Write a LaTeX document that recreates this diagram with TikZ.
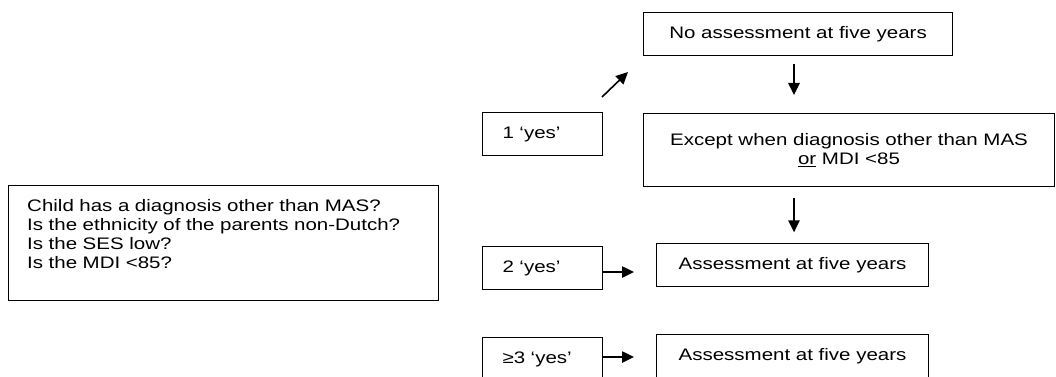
\documentclass[tikz,border=0pt]{standalone}
\usepackage{fontspec}
\setmainfont{Liberation Sans}[FakeStretch=1.23]
\usetikzlibrary{arrows.meta,calc}

\begin{document}
\begin{tikzpicture}[x=0.75pt, y=-0.75pt,
  every node/.style={font=\fontsize{12.5}{14.25}\selectfont},
  box/.style={draw, line width=0.8pt, anchor=north west, inner ysep=0pt, minimum height=32.25pt},
  yesbox/.style={box, inner xsep=15pt, text width=60pt, align=left},
  assessbox/.style={box, inner xsep=0pt, minimum width=204pt, align=center},
  arr/.style={-{Triangle[length=9pt,width=8.5pt]}, line width=1.2pt}]
  \useasboundingbox (0,0) rectangle (1056,377);
  \clip (0,0) rectangle (1056,377);
  % questions
  \node[box, inner xsep=14pt, text width=294.5pt, minimum height=86.25pt, align=left]
    (questions) at (8,185) {Child has a diagnosis other than MAS?\\
      Is the ethnicity of the parents non-Dutch?\\
      Is the SES low?\\
      Is the MDI <85?\\ \mbox{}};
  % number of yes answers
  \node[yesbox] (yes1) at (482,112) {1 ‘yes’};
  \node[yesbox] (yes2) at (482,246) {2 ‘yes’};
  \node[yesbox] (yes3) at (482,337) {≥3 ‘yes’};
  % outcomes
  \node[box, inner xsep=0pt, minimum width=231.75pt, align=center] (noassess) at (643,12)
    {No assessment at five years};
  \node[box, inner xsep=0pt, minimum width=308.25pt, minimum height=54.75pt, align=center]
    (except) at (643,113) {Except when diagnosis other than MAS\\ \underline{or} MDI <85};
  \node[assessbox] (assess1) at (656,243) {Assessment at five years};
  \node[assessbox] (assess2) at (656,334) {Assessment at five years};
  % arrows
  \coordinate (dtail) at (602,97);
  \coordinate (dhead) at (628,72);
  \coordinate (dx) at (794,0);
  \draw[arr] (dtail) -- (dhead);
  \draw[arr] ([yshift=-6pt]noassess.south -| dx) -- ([yshift=13.5pt]except.north -| dx);
  \draw[arr] ([yshift=-8pt]except.south -| dx) -- ([yshift=8pt]assess1.north -| dx);
  \draw[arr, shorten >=16.5pt] ([yshift=-3pt]yes2.east) -- ([yshift=-3pt]yes2.east -| assess1.west);
  \draw[arr, shorten >=16.5pt] ([yshift=1.5pt]yes3.east) -- ([yshift=1.5pt]yes3.east -| assess2.west);
\end{tikzpicture}
\end{document}
